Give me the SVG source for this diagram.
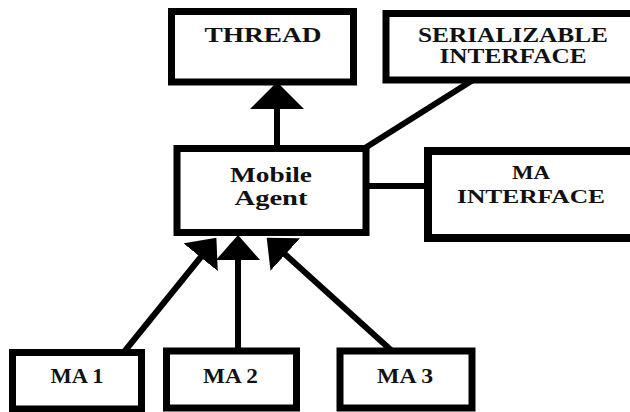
<svg xmlns="http://www.w3.org/2000/svg" width="630" height="412" viewBox="0 0 630 412">
<style>
.box{fill:#fff;stroke:#000;stroke-width:7}
.lbl{font-family:"Liberation Serif","Times New Roman",serif;font-weight:bold;fill:#111;text-anchor:middle}
.con{stroke:#000;stroke-width:6;fill:none}
</style>
<defs>
<marker id="head" markerUnits="userSpaceOnUse" viewBox="0 0 25 44" refX="1" refY="22" markerWidth="25" markerHeight="44" orient="auto">
<path d="M0,0 L25,22 L0,44 Z" fill="#000"/>
</marker>
<marker id="headBig" markerUnits="userSpaceOnUse" viewBox="0 0 27 54" refX="1" refY="27" markerWidth="27" markerHeight="54" orient="auto">
<path d="M0,0 L27,27 L0,54 Z" fill="#000"/>
</marker>
</defs>
<rect width="630" height="412" fill="#fff"/>
<g id="connectors">
<line class="con" x1="277" y1="148" x2="277" y2="108" marker-end="url(#headBig)"/>
<line class="con" x1="473" y1="80" x2="365" y2="148"/>
<line class="con" x1="366" y1="186" x2="428" y2="186"/>
<line class="con" x1="124" y1="352" x2="201.3" y2="256.5" marker-end="url(#head)"/>
<line class="con" x1="238" y1="351" x2="238" y2="259" marker-end="url(#head)"/>
<line class="con" x1="392" y1="351" x2="284.5" y2="253.8" marker-end="url(#head)"/>
</g>
<g id="thread">
<rect class="box" x="171.5" y="11.5" width="182" height="70.5"/>
<text class="lbl" x="263" y="42" font-size="22" textLength="117" lengthAdjust="spacingAndGlyphs">THREAD</text>
</g>
<g id="serializable">
<rect class="box" x="386" y="13.5" width="260" height="66.5"/>
<text class="lbl" x="513" y="42" font-size="20" textLength="190" lengthAdjust="spacingAndGlyphs">SERIALIZABLE</text>
<text class="lbl" x="513" y="63" font-size="20" textLength="147" lengthAdjust="spacingAndGlyphs">INTERFACE</text>
</g>
<g id="mobile-agent">
<rect class="box" x="177" y="148.5" width="189" height="84"/>
<text class="lbl" x="271" y="182" font-size="22" textLength="82" lengthAdjust="spacingAndGlyphs">Mobile</text>
<text class="lbl" x="271" y="205" font-size="22" textLength="73" lengthAdjust="spacingAndGlyphs">Agent</text>
</g>
<g id="ma-interface">
<rect class="box" x="428" y="151" width="220" height="87" style="stroke-width:8"/>
<text class="lbl" x="531" y="179" font-size="19" textLength="38" lengthAdjust="spacingAndGlyphs">MA</text>
<text class="lbl" x="531" y="203" font-size="19" textLength="148" lengthAdjust="spacingAndGlyphs">INTERFACE</text>
</g>
<g id="ma1">
<rect class="box" x="12.5" y="352.5" width="129" height="56.5"/>
<text class="lbl" x="77" y="383" font-size="21" textLength="53" lengthAdjust="spacingAndGlyphs">MA 1</text>
</g>
<g id="ma2">
<rect class="box" x="166.5" y="351" width="130" height="57"/>
<text class="lbl" x="230.5" y="383" font-size="21" textLength="55" lengthAdjust="spacingAndGlyphs">MA 2</text>
</g>
<g id="ma3">
<rect class="box" x="340" y="351" width="132" height="57"/>
<text class="lbl" x="405" y="383" font-size="21" textLength="56" lengthAdjust="spacingAndGlyphs">MA 3</text>
</g>
</svg>
